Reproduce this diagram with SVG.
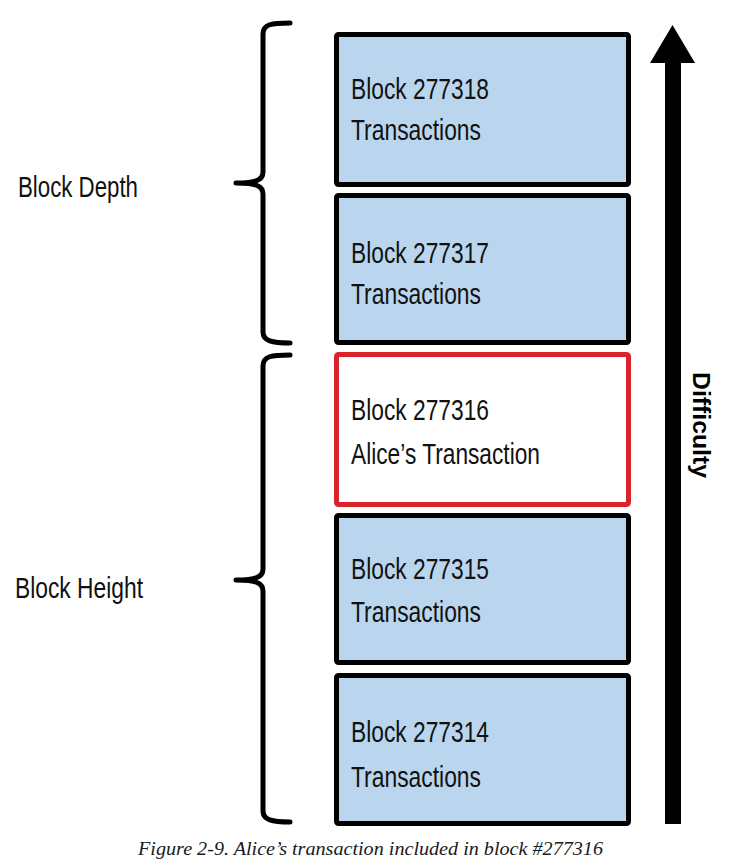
<svg xmlns="http://www.w3.org/2000/svg" width="739" height="864" viewBox="0 0 739 864">
<style>
.blk{fill:#bad6ee;stroke:#000;stroke-width:5}
.hl{fill:#fff;stroke:#d8232a;stroke-width:5}
.t{font-family:"Liberation Sans",Arial,sans-serif;font-size:29px;fill:#111}
.lbl{font-family:"Liberation Sans",Arial,sans-serif;font-size:30px;fill:#111}
.brace{fill:none;stroke:#000;stroke-width:5;stroke-linecap:round;stroke-linejoin:round}
.cap{font-family:"Liberation Serif","Times New Roman",serif;font-style:italic;font-size:18px;fill:#1a1a22}
</style>
<rect width="739" height="864" fill="#fff"/>
<g id="block-277318">
<rect class="blk" x="336.5" y="34.5" width="292" height="150" rx="2"/>
<text class="t" x="351" y="99" textLength="138" lengthAdjust="spacingAndGlyphs">Block 277318</text>
<text class="t" x="351" y="140" textLength="130" lengthAdjust="spacingAndGlyphs">Transactions</text>
</g>
<g id="block-277317">
<rect class="blk" x="336.5" y="195.5" width="292" height="147" rx="2"/>
<text class="t" x="351" y="263" textLength="138" lengthAdjust="spacingAndGlyphs">Block 277317</text>
<text class="t" x="351" y="304" textLength="130" lengthAdjust="spacingAndGlyphs">Transactions</text>
</g>
<g id="block-277316">
<rect class="hl" x="336.5" y="354.5" width="292" height="150" rx="2"/>
<text class="t" x="351" y="420" textLength="138" lengthAdjust="spacingAndGlyphs">Block 277316</text>
<text class="t" x="351" y="464" textLength="189" lengthAdjust="spacingAndGlyphs">Alice’s Transaction</text>
</g>
<g id="block-277315">
<rect class="blk" x="336.5" y="515.5" width="292" height="147" rx="2"/>
<text class="t" x="351" y="579" textLength="138" lengthAdjust="spacingAndGlyphs">Block 277315</text>
<text class="t" x="351" y="622" textLength="130" lengthAdjust="spacingAndGlyphs">Transactions</text>
</g>
<g id="block-277314">
<rect class="blk" x="336.5" y="675.5" width="292" height="148" rx="2"/>
<text class="t" x="351" y="742" textLength="138" lengthAdjust="spacingAndGlyphs">Block 277314</text>
<text class="t" x="351" y="787" textLength="130" lengthAdjust="spacingAndGlyphs">Transactions</text>
</g>
<g id="block-depth">
<path class="brace" d="M290,23 C272,23 263,24 263,34 L263,172 C263,180 256,183 236,183 C256,183 263,186 263,194 L263,332 C263,341 272,343 290,343"/>
<text class="lbl" x="18" y="197" textLength="120" lengthAdjust="spacingAndGlyphs">Block Depth</text>
</g>
<g id="block-height">
<path class="brace" d="M290,355 C272,355 263,356 263,366 L263,569 C263,577 256,580 236,580 C256,580 263,583 263,591 L263,811 C263,820 272,822 290,822"/>
<text class="lbl" x="15" y="598" textLength="128" lengthAdjust="spacingAndGlyphs">Block Height</text>
</g>
<g id="connectors">
<g id="difficulty-arrow">
<rect x="665" y="60" width="16" height="764" fill="#000"/>
<polygon points="672.5,25 650,63 695,63" fill="#000"/>
<text transform="translate(693,372) rotate(90)" font-family="Liberation Sans,Arial,sans-serif" font-weight="bold" font-size="24" fill="#000" textLength="106" lengthAdjust="spacingAndGlyphs">Difficulty</text>
</g>
</g>
<text class="cap" x="138" y="855" textLength="465" lengthAdjust="spacingAndGlyphs">Figure 2-9. Alice’s transaction included in block #277316</text>
</svg>
